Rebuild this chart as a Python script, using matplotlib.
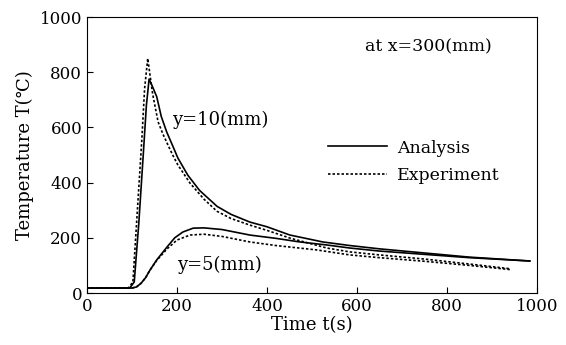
import matplotlib
matplotlib.use("Agg")
import matplotlib.pyplot as plt

plt.rcParams['font.family'] = ['DejaVu Serif', 'DejaVu Sans']

# y = 10 mm
t10_ana = [0, 95, 105, 115, 125, 132, 138, 145, 155, 165, 177, 190, 202, 224, 250, 289, 320, 362,
           400, 451, 524, 584, 650, 750, 850, 984]
T10_ana = [18, 18, 40, 250, 500, 680, 775, 750, 711, 640, 584, 535, 489, 427, 372, 314, 285, 257,
           240, 210, 185, 172, 160, 145, 130, 116]
t10_exp = [0, 92, 102, 112, 122, 128, 135, 140, 146, 158, 169, 180, 191, 202, 229, 260, 289, 320,
           362, 400, 451, 533, 584, 650, 750, 850, 940]
T10_exp = [18, 18, 40, 300, 560, 740, 850, 790, 720, 620, 575, 536, 498, 464, 398, 340, 296, 270,
           246, 227, 199, 163, 149, 138, 123, 105, 88]

# y = 5 mm
t5_ana = [0, 100, 110, 120, 130, 140, 155, 178, 195, 213, 236, 260, 300, 362, 420, 473, 533, 584,
          650, 750, 850, 984]
T5_ana = [18, 18, 22, 35, 55, 83, 120, 167, 200, 221, 235, 236, 230, 210, 198, 185, 174, 163,
          152, 140, 128, 116]
t5_exp = [0, 100, 110, 120, 130, 140, 155, 178, 200, 229, 260, 300, 362, 420, 511, 584, 650, 750,
          850, 940]
T5_exp = [18, 18, 22, 35, 55, 83, 118, 160, 192, 210, 213, 205, 185, 172, 156, 138, 128, 115,
          100, 85]

fig = plt.figure(figsize=(5.66, 3.45), dpi=100)
ax = fig.add_axes([0.1537, 0.1507, 0.795, 0.800])

dots = (0, (1.5, 1.2))
ax.plot(t10_ana, T10_ana, 'k-', lw=1.2, label='Analysis')
ax.plot(t10_exp, T10_exp, 'k', ls=dots, lw=1.2, label='Experiment')
ax.plot(t5_ana, T5_ana, 'k-', lw=1.2)
ax.plot(t5_exp, T5_exp, 'k', ls=dots, lw=1.2)

ax.set_xlim(0, 1000)
ax.set_ylim(0, 1000)
ax.set_xticks([0, 200, 400, 600, 800, 1000])
ax.set_yticks([0, 200, 400, 600, 800, 1000])
ax.tick_params(direction='in', length=4, labelsize=12)
ax.set_xlabel('Time t(s)', fontsize=13, labelpad=1)
ax.set_ylabel('Temperature T(℃)', fontsize=13)

ax.text(758, 891, 'at x=300(mm)', fontsize=12.5, ha='center', va='center')
ax.text(189, 627, 'y=10(mm)', fontsize=13, va='center')
ax.text(200, 101, 'y=5(mm)', fontsize=13, va='center')

ax.legend(loc='upper left', bbox_to_anchor=(0.536, 0.556), frameon=False,
          borderpad=0, borderaxespad=0, fontsize=12.5, handlelength=3.4,
          handletextpad=0.55, labelspacing=0.6)

fig.savefig('out.png', dpi=100)
